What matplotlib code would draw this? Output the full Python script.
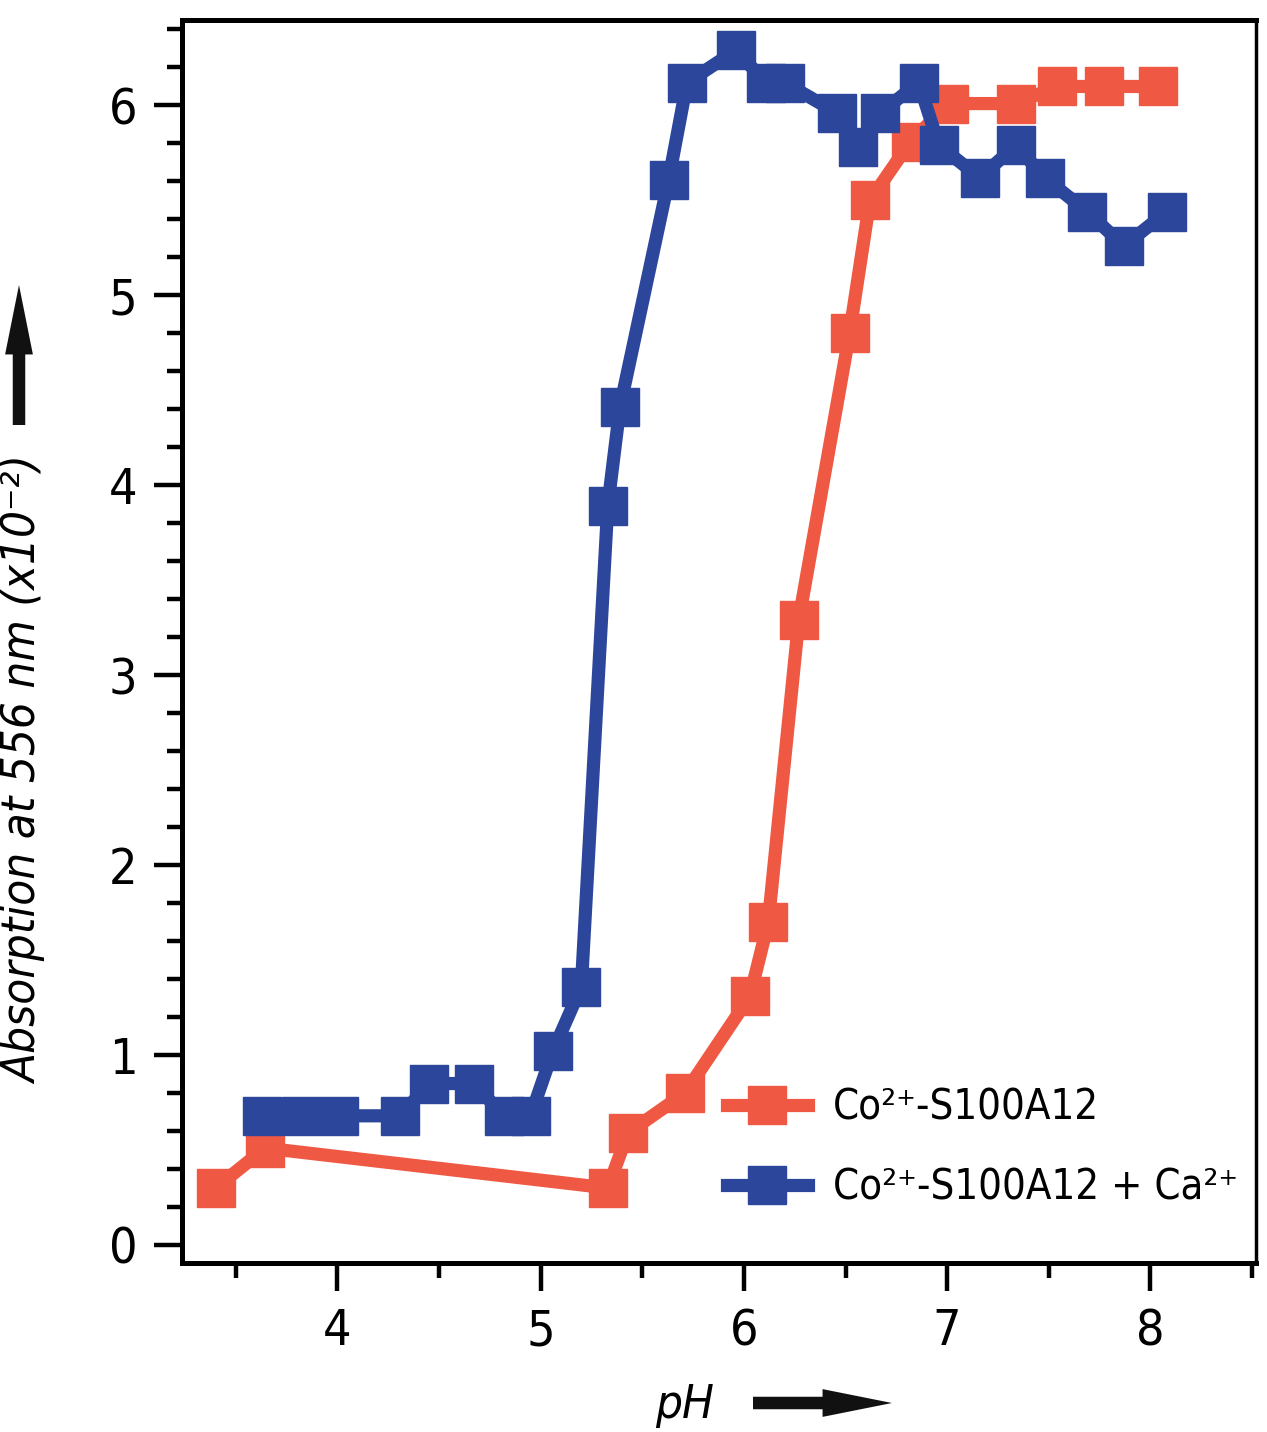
import matplotlib
matplotlib.use('Agg')
import matplotlib.pyplot as plt
from matplotlib.ticker import MultipleLocator

# Co2+-S100A12
ph_co = [3.40, 3.645, 5.33, 5.43, 5.71, 6.03, 6.12, 6.27, 6.52, 6.62,
         6.82, 7.01, 7.34, 7.54, 7.77, 8.04]
abs_co = [0.30, 0.51, 0.30, 0.59, 0.80, 1.31, 1.70, 3.29, 4.80, 5.50,
          5.81, 6.01, 6.01, 6.10, 6.10, 6.10]

# Co2+-S100A12 + Ca2+
ph_ca = [3.63, 3.82, 4.01, 4.31, 4.45, 4.67, 4.82, 4.95, 5.06, 5.20,
         5.33, 5.39, 5.63, 5.72, 5.96, 6.11, 6.20, 6.46, 6.56, 6.67,
         6.86, 6.96, 7.16, 7.34, 7.48, 7.69, 7.87, 8.08]
abs_ca = [0.68, 0.68, 0.68, 0.68, 0.85, 0.85, 0.68, 0.68, 1.02, 1.36,
          3.89, 4.41, 5.61, 6.12, 6.29, 6.12, 6.12, 5.96, 5.78, 5.96,
          6.12, 5.79, 5.62, 5.79, 5.62, 5.44, 5.26, 5.44]

labels = ['Co²⁺-S100A12', 'Co²⁺-S100A12 + Ca²⁺']
red = '#EF5842'
blue = '#2B469B'


def main():
    plt.rcParams['font.family'] = ['DejaVu Sans']
    plt.rcParams['font.stretch'] = 'condensed'

    fig = plt.figure(figsize=(12.67, 14.32), dpi=100)
    ax = fig.add_axes([182 / 1267, 1 - 1263 / 1432,
                       (1256 - 182) / 1267, (1263 - 20) / 1432])

    style = dict(marker='s', markersize=28, linewidth=9.5, solid_joinstyle='round')
    ax.plot(ph_co, abs_co, color=red, label=labels[0], **style)
    ax.plot(ph_ca, abs_ca, color=blue, label=labels[1], **style)

    ax.set_xlim(3.235, 8.52)
    ax.set_ylim(-0.095, 6.45)
    ax.xaxis.set_major_locator(MultipleLocator(1))
    ax.xaxis.set_minor_locator(MultipleLocator(0.5))
    ax.yaxis.set_major_locator(MultipleLocator(1))
    ax.yaxis.set_minor_locator(MultipleLocator(0.2))
    ax.tick_params(which='both', direction='out', top=False, right=False,
                   width=3.2, labelsize=36)
    ax.tick_params(which='major', length=20, pad=12)
    ax.tick_params(which='minor', length=11)
    for side in ['left', 'bottom', 'top']:
        ax.spines[side].set_linewidth(3.6)
    ax.spines['right'].set_linewidth(2.5)

    ax.legend(loc='center left', bbox_to_anchor=(0.507, 0.093), frameon=False,
              fontsize=30, borderpad=0, borderaxespad=0, handlelength=1.95,
              handletextpad=0.6, labelspacing=0.9)

    # axis labels with arrows
    fig.text(25 / 1267, 1 - 770 / 1432, 'Absorption at 556 nm (x10⁻²)',
             rotation=90, ha='center', va='center', fontsize=34, style='italic')
    fig.text(685 / 1267, 1 - 1405 / 1432, 'pH', ha='center', va='center',
             fontsize=34, style='italic')
    arrow = dict(arrowstyle='simple,head_width=20,head_length=50,tail_width=9',
                 mutation_scale=1, color='#111111', lw=0, shrinkA=0, shrinkB=0)
    fig.add_artist(plt.Annotation('', xy=(19 / 1267, 1 - 285 / 1432),
                                  xytext=(19 / 1267, 1 - 425 / 1432),
                                  xycoords='figure fraction',
                                  arrowprops=arrow))
    fig.add_artist(plt.Annotation('', xy=(892 / 1267, 1 - 1403 / 1432),
                                  xytext=(753 / 1267, 1 - 1403 / 1432),
                                  xycoords='figure fraction',
                                  arrowprops=arrow))

    fig.savefig('out.png', dpi=100)


if __name__ == '__main__':
    main()
